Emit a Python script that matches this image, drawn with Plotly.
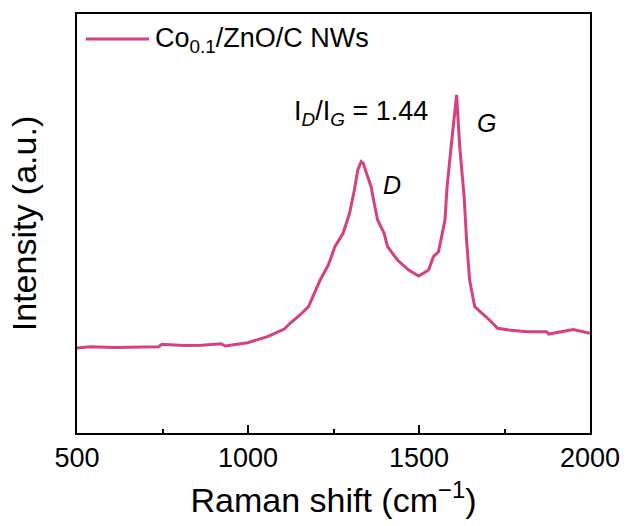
import plotly.graph_objects as go

# Raman shift (cm^-1)
raman_shift = [500, 538, 610, 682, 739, 748, 812, 864, 921, 933, 999, 1057, 1086, 1106,
               1123, 1152, 1177, 1189, 1211, 1235, 1254, 1278, 1297, 1311, 1321, 1331,
               1337, 1345, 1360, 1369, 1379, 1398, 1408, 1437, 1470, 1499, 1528, 1542,
               1557, 1576, 1582, 1595, 1610, 1619, 1632, 1639, 1648, 1663, 1686, 1706,
               1730, 1763, 1816, 1873, 1879, 1941, 1951, 2000]
# Intensity (a.u.)
intensity = [850, 863, 855, 857, 863, 887, 875, 877, 893, 870, 903, 963, 1013, 1040,
             1097, 1180, 1263, 1360, 1530, 1680, 1863, 1997, 2197, 2430, 2630, 2713,
             2697, 2613, 2463, 2297, 2130, 1997, 1863, 1730, 1630, 1570, 1630, 1763,
             1813, 2130, 2460, 2900, 3380, 2863, 2363, 1930, 1530, 1263, 1197, 1130,
             1047, 1030, 1013, 1013, 990, 1023, 1035, 997]

series_name = "Co<sub>0.1</sub>/ZnO/C NWs"
ratio_text = "I<sub><i>D</i></sub>/I<sub><i>G</i></sub> = 1.44"
x_ticks = [500, 1000, 1500, 2000]

color = "#d63f80"
FONT = "Arial, 'Liberation Sans', sans-serif"

fig = go.Figure()
fig.add_trace(go.Scatter(x=raman_shift, y=intensity, mode="lines",
                         line=dict(color=color, width=3), name=series_name,
                         showlegend=False))

# legend (manual)
fig.add_shape(type="line", xref="paper", yref="paper", x0=0.0173, x1=0.1404,
              y0=0.9403, y1=0.9403, line=dict(color=color, width=3))
fig.add_annotation(xref="paper", yref="paper", x=0.148, y=0.938, text=series_name,
                   showarrow=False, xanchor="left", yanchor="middle",
                   font=dict(family=FONT, size=27, color="black"))

fig.add_annotation(x=1331, y=3200, text=ratio_text, showarrow=False,
                   font=dict(family=FONT, size=27, color="black"))
fig.add_annotation(x=1697, y=3100, text="<i>G</i>", showarrow=False,
                   font=dict(family=FONT, size=25, color="black"))
fig.add_annotation(x=1420, y=2480, text="<i>D</i>", showarrow=False,
                   font=dict(family=FONT, size=25, color="black"))

fig.update_layout(
    width=632, height=526,
    margin=dict(l=77, r=35, t=14, b=93),
    paper_bgcolor="white", plot_bgcolor="white",
    font=dict(family=FONT, color="black"),
    showlegend=False,
)
fig.update_xaxes(range=[500, 2000], tickvals=x_ticks, ticks="inside", ticklen=8,
                 tickwidth=2, tickcolor="black",
                 minor=dict(dtick=250, ticks="inside", ticklen=4, tickwidth=2, tickcolor="black"),
                 showline=True, linewidth=2, linecolor="black", mirror=True,
                 showgrid=False, zeroline=False,
                 tickfont=dict(family=FONT, size=27, color="black"),
                 title=dict(text="Raman shift (cm<sup>−1</sup>)", standoff=16,
                            font=dict(family=FONT, size=34, color="black")))
fig.update_yaxes(range=[0, 4190], showticklabels=False, ticks="",
                 showline=True, linewidth=2, linecolor="black", mirror=True,
                 showgrid=False, zeroline=False,
                 title=dict(text="Intensity (a.u.)", standoff=28,
                            font=dict(family=FONT, size=34, color="black")))

fig.write_html("out.html", config={"displayModeBar": False},
               post_script="document.body.style.margin='0';document.body.style.overflow='hidden';")
